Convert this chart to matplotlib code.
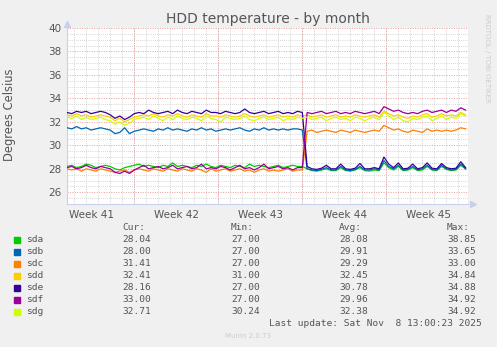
"""
HDD temperature by month, munin style
"""
import numpy as np
import matplotlib
matplotlib.use("Agg")
import matplotlib.pyplot as plt

# samples every 0.4 day over the month window
step_days = 0.4

sda = [28.2, 28.3, 28.1, 28.2, 28.4, 28.3, 28.1, 28.2, 28.3, 28.2,
       28.0, 27.9, 28.1, 28.2, 28.3,
       28.4, 28.2, 28.3, 28.2, 28.1, 28.3, 28.2, 28.5, 28.2, 28.3,
       28.2, 28.1, 28.3, 28.2, 28.4, 28.2, 28.1, 28.3, 28.2, 28.1,
       28.3, 28.2, 28.1, 28.4, 28.2, 28.3, 28.2, 28.1, 28.2, 28.3,
       28.1, 28.2, 28.3, 28.2, 28.2,
       28.0, 27.85, 27.8, 27.9, 28.0, 27.85, 27.85, 28.1, 27.85, 27.8,
       27.9, 28.1, 27.85, 27.8, 27.9, 27.85, 28.5, 28.1, 27.9, 28.2,
       27.85, 27.9, 28.1, 27.85, 27.9, 28.2, 27.9, 27.85, 28.2, 27.95,
       27.85, 27.9, 28.3, 28.0]
sdb = [31.5, 31.4, 31.6, 31.4, 31.5, 31.3, 31.4, 31.5, 31.4, 31.3,
       31.0, 31.1, 31.5, 31.0, 31.2,
       31.3, 31.4, 31.3, 31.2, 31.4, 31.3, 31.5, 31.3, 31.4, 31.3,
       31.2, 31.4, 31.3, 31.5, 31.3, 31.4, 31.2, 31.3, 31.4, 31.3,
       31.4, 31.5, 31.3, 31.2, 31.4, 31.3, 31.5, 31.3, 31.4, 31.3,
       31.4, 31.3, 31.4, 31.4, 31.3,
       28.0, 27.9, 27.85, 27.95, 28.1, 27.9, 27.9, 28.2, 27.9, 27.85,
       27.95, 28.2, 27.9, 27.9, 28.0, 27.9, 28.7, 28.2, 28.0, 28.3,
       27.9, 27.95, 28.2, 27.9, 28.0, 28.3, 27.95, 27.9, 28.3, 28.0,
       27.9, 27.95, 28.4, 28.0]
sdc = [28.0, 27.9, 28.0, 27.8, 28.0, 27.9, 27.8, 28.0, 27.9, 27.8,
       27.7, 27.8, 27.9, 27.7, 27.9,
       28.0, 27.9, 27.8, 28.0, 27.9, 27.8, 28.0, 27.9, 27.8, 28.0,
       27.9, 27.8, 28.0, 27.9, 27.7, 28.0, 27.8, 27.9, 28.0, 27.8,
       27.9, 28.0, 27.8, 27.9, 27.7, 27.9, 28.0, 27.8, 27.9, 27.8,
       27.9, 28.0, 27.8, 27.9, 27.9,
       31.2, 31.3, 31.1, 31.2, 31.3, 31.2, 31.1, 31.3, 31.2, 31.1,
       31.3, 31.2, 31.1, 31.2, 31.3, 31.2, 31.7, 31.5, 31.3, 31.4,
       31.2, 31.1, 31.3, 31.2, 31.1, 31.4, 31.2, 31.3, 31.2, 31.3,
       31.2, 31.3, 31.5, 31.4]
sdd = [32.6, 32.5, 32.7, 32.5, 32.6, 32.4, 32.5, 32.6, 32.5, 32.4,
       32.1, 32.3, 32.0, 32.2, 32.4,
       32.5, 32.6, 32.5, 32.7, 32.5, 32.4, 32.6, 32.5, 32.7, 32.5,
       32.4, 32.6, 32.5, 32.4, 32.7, 32.5, 32.5, 32.4, 32.6, 32.5,
       32.4, 32.5, 32.7, 32.5, 32.4, 32.5, 32.6, 32.4, 32.5, 32.6,
       32.4, 32.5, 32.4, 32.6, 32.5,
       32.6, 32.4, 32.5, 32.6, 32.4, 32.5, 32.6, 32.4, 32.5, 32.4,
       32.6, 32.5, 32.4, 32.5, 32.6, 32.4, 32.9, 32.7, 32.5, 32.6,
       32.4, 32.3, 32.5, 32.4, 32.6, 32.7, 32.4, 32.5, 32.7, 32.5,
       32.6, 32.5, 32.8, 32.6]
sde = [32.8, 32.7, 32.9, 32.8, 32.9, 32.7, 32.8, 32.9, 32.8, 32.6,
       32.3, 32.5, 32.2, 32.4, 32.7,
       32.8, 32.7, 33.0, 32.8, 32.7, 32.8, 32.9, 32.7, 33.0, 32.8,
       32.7, 32.9, 32.8, 32.7, 33.0, 32.8, 32.8, 32.7, 32.9, 32.8,
       32.7, 32.8, 33.1, 32.8, 32.7, 32.8, 32.9, 32.7, 32.8, 32.9,
       32.7, 32.8, 32.7, 32.9, 32.8,
       28.2, 28.0, 27.95, 28.05, 28.3, 28.0, 28.0, 28.4, 28.0, 27.95,
       28.05, 28.45, 28.0, 28.0, 28.1, 28.0, 29.0, 28.4, 28.1, 28.5,
       28.0, 28.05, 28.4, 28.0, 28.1, 28.5, 28.05, 28.0, 28.45, 28.1,
       28.0, 28.05, 28.6, 28.1]
sdf = [28.1, 28.2, 28.0, 28.1, 28.3, 28.1, 28.0, 28.2, 28.1, 28.0,
       27.7, 27.6, 27.8, 27.6, 27.9,
       28.1, 28.3, 28.0, 28.1, 28.2, 28.0, 28.1, 28.3, 28.0, 28.1,
       28.2, 28.0, 28.1, 28.4, 28.0, 28.1, 28.0, 28.2, 28.1, 27.9,
       28.1, 28.3, 28.0, 28.1, 27.9, 28.1, 28.4, 28.0, 28.1, 28.2,
       28.0, 28.1, 27.9, 28.1, 28.1,
       32.8, 32.7, 32.8, 32.9, 32.7, 32.8, 32.9, 32.7, 32.8, 32.7,
       32.9, 32.8, 32.7, 32.8, 32.9, 32.7, 33.3, 33.1, 32.9, 33.0,
       32.8, 32.7, 32.8, 32.7, 32.9, 33.0, 32.8, 32.9, 33.0, 32.8,
       33.0, 32.9, 33.2, 33.0]
sdg = [32.4, 32.3, 32.5, 32.2, 32.4, 32.2, 32.3, 32.4, 32.2, 32.1,
       31.8, 32.0, 31.7, 31.9, 32.2,
       32.3, 32.4, 32.2, 32.5, 32.3, 32.1, 32.4, 32.2, 32.5, 32.3,
       32.2, 32.4, 32.3, 32.1, 32.5, 32.3, 32.2, 32.0, 32.4, 32.3,
       32.2, 32.3, 32.5, 32.2, 32.1, 32.3, 32.4, 32.2, 32.3, 32.4,
       32.1, 32.3, 32.2, 32.4, 32.3,
       32.4, 32.2, 32.3, 32.4, 32.1, 32.3, 32.4, 32.2, 32.3, 32.1,
       32.4, 32.3, 32.1, 32.3, 32.4, 32.2, 32.8, 32.5, 32.2, 32.4,
       32.1, 32.0, 32.3, 32.2, 32.4, 32.5, 32.1, 32.3, 32.5, 32.2,
       32.4, 32.3, 32.7, 32.5]

names = ["sda", "sdb", "sdc", "sdd", "sde", "sdf", "sdg"]
colors = ["#00cc00", "#0066b3", "#ff8000", "#ffcc00", "#330099", "#990099", "#ccff00"]
cur = ["28.04", "28.00", "31.41", "32.41", "28.16", "33.00", "32.71"]
mins = ["27.00", "27.00", "27.00", "31.00", "27.00", "27.00", "30.24"]
avgs = ["28.08", "29.91", "29.29", "32.45", "30.78", "29.96", "32.38"]
maxs = ["38.85", "33.65", "33.00", "34.84", "34.88", "34.92", "34.92"]

week_labels = ["Week 41", "Week 42", "Week 43", "Week 44", "Week 45"]
week_starts = [5.58, 12.58, 19.58, 26.58]
span_days = 33.4

W, H = 497, 347
fig = plt.figure(figsize=(W / 100, H / 100), dpi=100, facecolor="#f0f0f0")


def px(x, y):
    return x / W, 1 - y / H


left, right, top, bottom = 67, 468, 28, 204
ax = fig.add_axes([left / W, 1 - bottom / H, (right - left) / W, (bottom - top) / H])
ax.set_facecolor("white")

series = [sda, sdb, sdc, sdd, sde, sdf, sdg]
days = np.arange(len(sda)) * step_days
for vals, c in zip(series, colors):
    ax.plot(days, vals, color=c, lw=0.9, zorder=3)

ax.set_xlim(0, span_days)
ax.set_ylim(25, 40)

# grid: minor every day / half degree, major red at week starts / 2 degrees
grid_gray = "#c8c8c8"
grid_red = "#eb9c9c"
dots = (0, (1, 1.5))
day_lines = np.arange(0.58, span_days, 1.0)
for d in day_lines:
    ax.axvline(d, color=grid_gray, lw=0.6, ls=dots, zorder=1)
for w in week_starts:
    ax.axvline(w, color=grid_red, lw=0.7, ls=dots, zorder=2)
for v in np.arange(25.5, 40.01, 0.5):
    if v % 2 != 0:
        ax.axhline(v, color=grid_gray, lw=0.6, ls=dots, zorder=1)
for v in range(26, 41, 2):
    ax.axhline(v, color=grid_red, lw=0.7, ls=dots, zorder=2)

ax.set_yticks(range(26, 41, 2))
ax.set_xticks([w - 3.5 for w in week_starts] + [week_starts[-1] + 3.5])
ax.set_xticklabels(week_labels)
ax.tick_params(length=0, labelsize=7.5, colors="#555555", pad=4)
for s in ["top", "right"]:
    ax.spines[s].set_visible(False)
for s in ["left", "bottom"]:
    ax.spines[s].set_color("#c8d0f0")
    ax.spines[s].set_linewidth(0.8)

# axis arrows
ax.plot([0], [40.3], marker="^", color="#c8d0f0", ms=4, clip_on=False, zorder=5)
ax.plot([span_days + 0.4], [25], marker=">", color="#c8d0f0", ms=4, clip_on=False, zorder=5)

fig.text(*px(268, 19), "HDD temperature - by month", ha="center", va="center",
         fontsize=10, color="#555555")
fig.text(*px(10, 115), "Degrees Celsius", rotation=90, ha="center", va="center",
         fontsize=8.3, color="#555555")
fig.text(*px(487, 58), "RRDTOOL / TOBI OETIKER", rotation=-90, ha="center", va="center",
         fontsize=5, color="#cccccc")

# legend table
mono = dict(family="DejaVu Sans Mono", fontsize=6.8, color="#555555", va="center")
header_y = 228
cols = [122, 231, 339, 447]
for x, h in zip(cols, ["Cur:", "Min:", "Avg:", "Max:"]):
    fig.text(*px(x, header_y), h, ha="left", **mono)
for i, name in enumerate(names):
    y = 240 + i * 12
    fig.patches.append(plt.Rectangle(px(14, y + 3), 6 / W, 6 / H, color=colors[i],
                                     transform=fig.transFigure, figure=fig))
    fig.text(*px(26, y), name, ha="left", **mono)
    for x, val in zip(cols, [cur[i], mins[i], avgs[i], maxs[i]]):
        fig.text(*px(x, y), val, ha="left", **mono)

fig.text(*px(482, 324), "Last update: Sat Nov  8 13:00:23 2025", ha="right", **mono)
fig.text(*px(248, 336), "Munin 2.0.73", ha="center", va="center",
         fontsize=5, color="#cccccc")

fig.savefig("out.png", dpi=100, facecolor=fig.get_facecolor())
